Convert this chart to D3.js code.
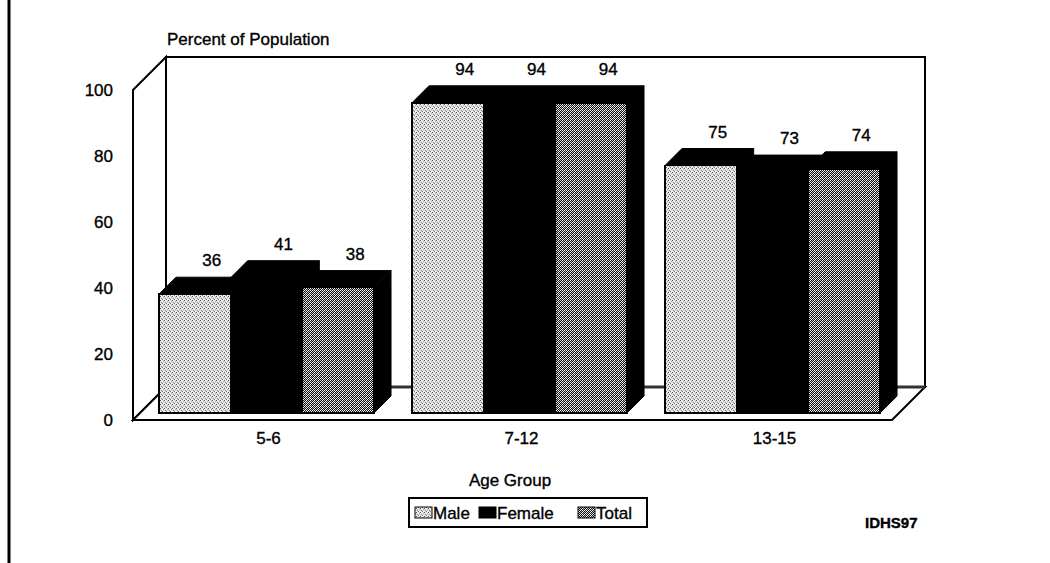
<!DOCTYPE html>
<html>
<head>
<meta charset="utf-8">
<script src="https://cdn.jsdelivr.net/npm/d3@7"></script>
<style>
  html, body { margin: 0; padding: 0; background: #fff; }
  svg { display: block; }
  text { font-family: "Liberation Sans", Arial, sans-serif; fill: #000; stroke: #000; stroke-width: 0.35px; }
</style>
</head>
<body>
<svg id="chart" width="1050" height="563"></svg>
<script>
// ---- data ----
const categories = ["5-6", "7-12", "13-15"];
const seriesNames = ["Male", "Female", "Total"];
const maleValues = [36, 94, 75];
const femaleValues = [41, 94, 73];
const totalValues = [38, 94, 74];
const yTicks = [0, 20, 40, 60, 80, 100];
const yTitle = "Percent of Population";
const xTitle = "Age Group";
const sourceNote = "IDHS97";

const seriesValues = [maleValues, femaleValues, totalValues];

// ---- layout ----
const W = 1050, H = 563;
const frontLeft = 133, frontRight = 892;
const yBottom = 420, yTop = 90;
const depth = 33;            // full depth of the 3D box
const barD1 = 7, barD2 = 24; // bar front/back depth
const FS = "17px";

const svg = d3.select("#chart");

// patterns
const defs = svg.append("defs");
const pm = defs.append("pattern").attr("id", "pMale").attr("patternUnits", "userSpaceOnUse")
  .attr("width", 4).attr("height", 4);
pm.append("rect").attr("width", 4).attr("height", 4).attr("fill", "#dcdcdc");
[[0,0,"#555"],[2,1,"#fff"],[1,2,"#888"],[3,3,"#fff"],[3,1,"#aaa"],[0,3,"#f0f0f0"],[2,3,"#777"],[1,0,"#fafafa"]]
  .forEach(([x,y,c]) => pm.append("rect").attr("x", x).attr("y", y).attr("width", 1).attr("height", 1).attr("fill", c));
const pt = defs.append("pattern").attr("id", "pTotal").attr("patternUnits", "userSpaceOnUse")
  .attr("width", 4).attr("height", 4);
pt.append("rect").attr("width", 4).attr("height", 4).attr("fill", "#111");
[[0,0],[2,0],[1,1],[3,1],[0,2],[2,2],[1,3],[3,3]].forEach(([x,y], i) =>
  pt.append("rect").attr("x", x).attr("y", y).attr("width", 1).attr("height", 1)
    .attr("fill", i % 3 === 0 ? "#bbb" : "#fff"));

const fills = { Male: "url(#pMale)", Female: "#000", Total: "url(#pTotal)" };

// scales
const y = d3.scaleLinear().domain([0, 100]).range([yBottom, yTop]);
const x0 = d3.scaleBand().domain(categories).range([frontLeft, frontRight])
  .paddingInner(0.15).paddingOuter(0.075);
const x1 = d3.scaleBand().domain(seriesNames).range([0, x0.bandwidth()]);

// left border line
svg.append("line").attr("x1", 9).attr("x2", 9).attr("y1", 0).attr("y2", H)
  .attr("stroke", "#000").attr("stroke-width", 3);

// back wall
const g = svg.append("g");
g.append("rect")
  .attr("x", frontLeft + depth).attr("y", y(100) - depth)
  .attr("width", frontRight - frontLeft).attr("height", y(0) - y(100))
  .attr("fill", "#fff").attr("stroke", "#000").attr("stroke-width", 2);
// left wall
g.append("path")
  .attr("d", `M${frontLeft},${y(100)} L${frontLeft + depth},${y(100) - depth} L${frontLeft + depth},${y(0) - depth} L${frontLeft},${y(0)} Z`)
  .attr("fill", "#fff").attr("stroke", "#000").attr("stroke-width", 2);
// floor
g.append("path")
  .attr("d", `M${frontLeft},${y(0)} L${frontLeft + depth},${y(0) - depth} L${frontRight + depth},${y(0) - depth} L${frontRight},${y(0)} Z`)
  .attr("fill", "#fff").attr("stroke", "#000").attr("stroke-width", 2);
g.append("line")
  .attr("x1", frontLeft + depth).attr("x2", frontRight + depth)
  .attr("y1", y(0) - depth).attr("y2", y(0) - depth)
  .attr("stroke", "#333").attr("stroke-width", 3);

// y axis
const yAxis = svg.append("g").attr("transform", `translate(${frontLeft},0)`)
  .call(d3.axisLeft(y).tickValues(yTicks).tickSize(0).tickPadding(20));
yAxis.select(".domain").remove();
yAxis.selectAll("text").style("font-size", FS).style("font-family", '"Liberation Sans", Arial, sans-serif').attr("fill", "#000");

svg.append("text").attr("x", 167).attr("y", 45).style("font-size", FS).text(yTitle);

// x axis
const xAxis = svg.append("g").attr("transform", `translate(${barD1 + 2},${y(0) + 4})`)
  .call(d3.axisBottom(x0).tickSize(0).tickPadding(8));
xAxis.select(".domain").remove();
xAxis.selectAll("text").style("font-size", FS).style("font-family", '"Liberation Sans", Arial, sans-serif').attr("fill", "#000");

svg.append("text").attr("x", 510).attr("y", 486).attr("text-anchor", "middle")
  .style("font-size", FS).text(xTitle);

// bars
const bars = [];
categories.forEach((c, ci) => {
  seriesNames.forEach((s, si) => {
    bars.push({ cat: c, series: s, value: seriesValues[si][ci] });
  });
});

const barG = svg.append("g");
bars.forEach(b => {
  const xl = x0(b.cat) + x1(b.series) + barD1;
  const xr = xl + x1.bandwidth();
  const yb = y(0) - barD1;
  const yt = y(b.value) - barD1;
  const dd = barD2 - barD1;
  const gb = barG.append("g");
  gb.append("path")
    .attr("d", `M${xl},${yt} L${xl + dd},${yt - dd} L${xr + dd},${yt - dd} L${xr},${yt} Z`)
    .attr("fill", "#000").attr("stroke", "#000").attr("stroke-width", 1);
  gb.append("path")
    .attr("d", `M${xr},${yt} L${xr + dd},${yt - dd} L${xr + dd},${yb - dd} L${xr},${yb} Z`)
    .attr("fill", "#000").attr("stroke", "#000").attr("stroke-width", 1);
  gb.append("rect").attr("x", xl).attr("y", yt).attr("width", xr - xl).attr("height", yb - yt)
    .attr("fill", fills[b.series]).attr("stroke", "#000").attr("stroke-width", 1.5)
    .attr("shape-rendering", "crispEdges");
  svg.append("text")
    .attr("x", (xl + xr) / 2 + dd)
    .attr("y", yt - dd - 11)
    .attr("text-anchor", "middle")
    .style("font-size", FS)
    .text(b.value);
});

// legend
const lg = svg.append("g");
lg.append("rect").attr("x", 409).attr("y", 498).attr("width", 238).attr("height", 29)
  .attr("fill", "#fff").attr("stroke", "#000").attr("stroke-width", 2);
const legendX = [415, 479, 578];
seriesNames.forEach((s, i) => {
  lg.append("rect").attr("x", legendX[i]).attr("y", 507).attr("width", 17).attr("height", 11)
    .attr("fill", fills[s]).attr("stroke", "#000").attr("stroke-width", 1);
  lg.append("text").attr("x", legendX[i] + 18).attr("y", 519)
    .style("font-size", FS).text(s);
});

svg.append("text").attr("x", 865).attr("y", 528).style("font-size", "15px").style("font-weight", "bold").text(sourceNote);
</script>
</body>
</html>
